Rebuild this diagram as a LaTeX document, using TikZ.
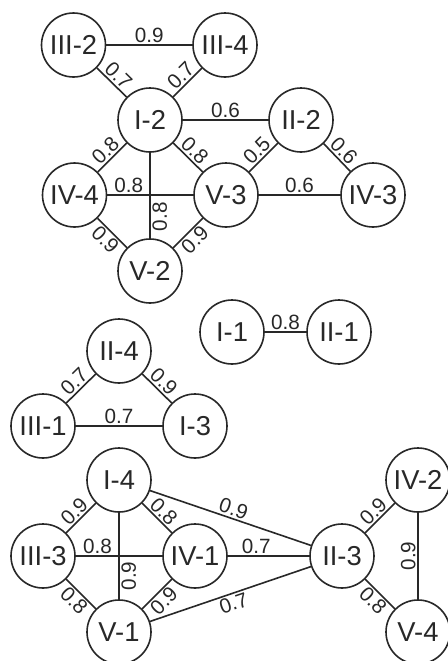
\documentclass[tikz,border=0pt]{standalone}
\usepackage{fontspec}
\setmainfont{Liberation Sans}
\definecolor{ink}{RGB}{40,40,40}
\begin{document}
\begin{tikzpicture}[x=0.75pt,y=-0.75pt,
  v/.style={circle,draw=ink,line width=1.2pt,minimum size=48pt,inner sep=0pt,
    font=\fontsize{20.5}{20.5}\selectfont,text=ink},
  e/.style={draw=ink,line width=1.2pt},
  w/.style={font=\fontsize{15.5}{15.5}\selectfont,text=ink,inner sep=1.2pt},
  ws/.style={w,sloped}]
\clip (0,0) rectangle (448,661);
\fill[white] (0,0) rectangle (448,661);
% top cluster
\node[v] (III2) at (73.5,45) {III-2};
\node[v] (III4) at (225,45) {III-4};
\node[v] (I2) at (150,120) {I-2};
\node[v] (II2) at (301,120) {II-2};
\node[v] (IV4) at (74.5,195) {IV-4};
\node[v] (V3) at (226,195) {V-3};
\node[v] (IV3) at (373,195) {IV-3};
\node[v] (V2) at (150,271) {V-2};
% middle
\node[v] (I1) at (232,332) {I-1};
\node[v] (II1) at (339,332) {II-1};
\node[v] (II4) at (119,351) {II-4};
\node[v] (III1) at (43,426) {III-1};
\node[v] (I3) at (195,426) {I-3};
% bottom
\node[v] (I4) at (119,480) {I-4};
\node[v] (III3) at (43,556) {III-3};
\node[v] (IV1) at (195,556) {IV-1};
\node[v] (II3) at (342,556) {II-3};
\node[v] (V1) at (119,632) {V-1};
\node[v] (IV2) at (418,480) {IV-2};
\node[v] (V4) at (418,632) {V-4};

% top edges
\path[e] (III2) -- node[ws,above] {0.9} (III4);
\path[e] (III2) -- node[ws,above] {0.7} (I2);
\path[e] (I2) -- node[ws,above] {0.7} (III4);
\path[e] (I2) -- node[ws,above] {0.6} (II2);
\path[e] (IV4) -- node[ws,above] {0.8} (I2);
\path[e] (I2) -- node[ws,above] {0.8} (V3);
\path[e] (V3) -- node[ws,above] {0.5} (II2);
\path[e] (II2) -- node[ws,above] {0.6} (IV3);
\path[e] (IV4) -- node[ws,above,pos=0.25] {0.8} (V3);
\path[e] (V3) -- node[ws,above] {0.6} (IV3);
\path[e] (V2) -- node[w,rotate=90,anchor=north,pos=0.25] {0.8} (I2);
\path[e] (IV4) -- node[ws,below] {0.9} (V2);
\path[e] (V2) -- node[ws,below] {0.9} (V3);
% middle edges
\path[e] (I1) -- node[ws,above] {0.8} (II1);
\path[e] (III1) -- node[ws,above] {0.7} (II4);
\path[e] (II4) -- node[ws,above] {0.9} (I3);
\path[e] (III1) -- node[ws,above] {0.7} (I3);
% bottom edges
\path[e] (III3) -- node[ws,above] {0.9} (I4);
\path[e] (I4) -- node[ws,above] {0.8} (IV1);
\path[e] (I4) -- node[ws,above] {0.9} (II3);
\path[e] (III3) -- node[ws,above,pos=0.25] {0.8} (IV1);
\path[e] (V1) -- node[w,rotate=90,anchor=north,pos=0.27] {0.9} (I4);
\path[e] (IV1) -- node[ws,above,pos=0.35] {0.7} (II3);
\path[e] (III3) -- node[ws,below] {0.8} (V1);
\path[e] (V1) -- node[ws,below] {0.9} (IV1);
\path[e] (V1) -- node[ws,below] {0.7} (II3);
\path[e] (II3) -- node[ws,above] {0.9} (IV2);
\path[e] (II3) -- node[ws,below] {0.8} (V4);
\path[e] (V4) -- node[w,rotate=90,anchor=south] {0.9} (IV2);
\end{tikzpicture}
\end{document}
